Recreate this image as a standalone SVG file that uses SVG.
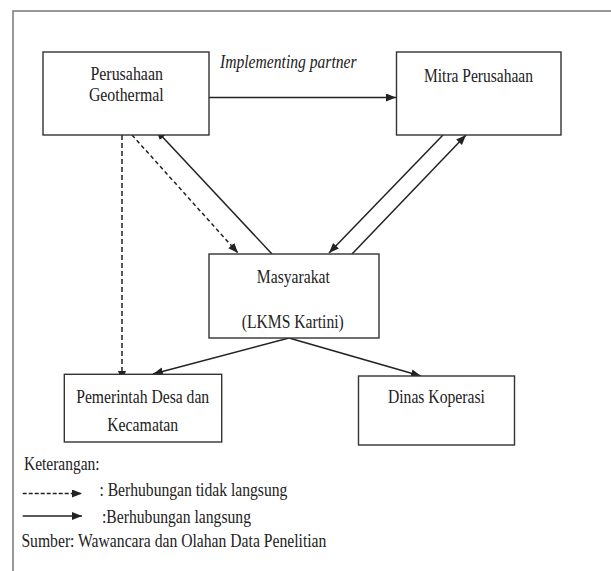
<svg xmlns="http://www.w3.org/2000/svg" width="611" height="571" viewBox="0 0 611 571">
<style>
.box{fill:#fff;stroke:#333;stroke-width:1.4}
.t{font-family:"Liberation Serif","Times New Roman","DejaVu Serif",serif;font-size:19px;fill:#222}
.c{text-anchor:middle}
.ln{fill:none;stroke:#222;stroke-width:1.5}
.dv{stroke-dasharray:5 3}
.dd{stroke-dasharray:4 3}
.dl{stroke-dasharray:4 2}
</style>
<defs>
<marker id="ah" markerUnits="userSpaceOnUse" markerWidth="11" markerHeight="9" refX="10" refY="4" orient="auto">
<path d="M0,0 L10,4 L0,8 z" fill="#222"/>
</marker>
</defs>
<rect width="611" height="571" fill="#fff"/>
<path d="M13,571 V11 H611" fill="none" stroke="#777" stroke-width="1.5"/>

<g id="connectors">
<line class="ln" x1="209" y1="97.5" x2="396" y2="97.5" marker-end="url(#ah)"/>
<line class="ln" x1="272" y1="254" x2="156" y2="130" marker-end="url(#ah)"/>
<line class="ln dd" x1="132" y1="135" x2="238" y2="253" marker-end="url(#ah)"/>
<line class="ln" x1="443" y1="135" x2="329" y2="253" marker-end="url(#ah)"/>
<line class="ln" x1="352" y1="254" x2="466" y2="135" marker-end="url(#ah)"/>
<line class="ln dv" x1="122" y1="135" x2="122" y2="381" marker-end="url(#ah)"/>
<line class="ln" x1="289" y1="338" x2="153" y2="374" marker-end="url(#ah)"/>
<line class="ln" x1="289" y1="338" x2="421" y2="376" marker-end="url(#ah)"/>
<text class="t" x="220" y="68" font-style="italic" textLength="136.6" lengthAdjust="spacingAndGlyphs">Implementing partner</text>
</g>

<g id="perusahaan">
<rect class="box" x="43" y="52" width="166" height="83"/>
<text class="t c" x="126.7" y="79.5" textLength="72.5" lengthAdjust="spacingAndGlyphs">Perusahaan</text>
<text class="t c" x="126.3" y="101" textLength="74.8" lengthAdjust="spacingAndGlyphs">Geothermal</text>
</g>

<g id="mitra">
<rect class="box" x="396.5" y="52" width="164.5" height="83"/>
<text class="t c" x="478.5" y="81.5" textLength="109" lengthAdjust="spacingAndGlyphs">Mitra Perusahaan</text>
</g>

<g id="masyarakat">
<rect class="box" x="209" y="254" width="170" height="84"/>
<text class="t c" x="293.3" y="282.7" textLength="73" lengthAdjust="spacingAndGlyphs">Masyarakat</text>
<text class="t c" x="292.8" y="327.5" textLength="102" lengthAdjust="spacingAndGlyphs">(LKMS Kartini)</text>
</g>

<g id="pemerintah">
<rect class="box" x="64.3" y="374.3" width="157.4" height="67.7"/>
<text class="t c" x="142.7" y="402.7" textLength="133" lengthAdjust="spacingAndGlyphs">Pemerintah Desa dan</text>
<text class="t c" x="142.7" y="431" textLength="71" lengthAdjust="spacingAndGlyphs">Kecamatan</text>
</g>

<g id="dinas">
<rect class="box" x="358.5" y="376" width="156" height="69"/>
<text class="t c" x="436.4" y="402.7" textLength="97" lengthAdjust="spacingAndGlyphs">Dinas Koperasi</text>
</g>

<g id="legend">
<text class="t" x="24" y="470" textLength="75.6" lengthAdjust="spacingAndGlyphs">Keterangan:</text>
<line class="ln dl" x1="22.7" y1="493.5" x2="82" y2="493.5" marker-end="url(#ah)"/>
<text class="t" x="99.4" y="496" textLength="188" lengthAdjust="spacingAndGlyphs">: Berhubungan tidak langsung</text>
<line class="ln" x1="22.7" y1="516" x2="82" y2="516" marker-end="url(#ah)"/>
<text class="t" x="102" y="522.5" textLength="149" lengthAdjust="spacingAndGlyphs">:Berhubungan langsung</text>
<text class="t" x="21.4" y="547" textLength="305" lengthAdjust="spacingAndGlyphs">Sumber: Wawancara dan Olahan Data Penelitian</text>
</g>
</svg>
